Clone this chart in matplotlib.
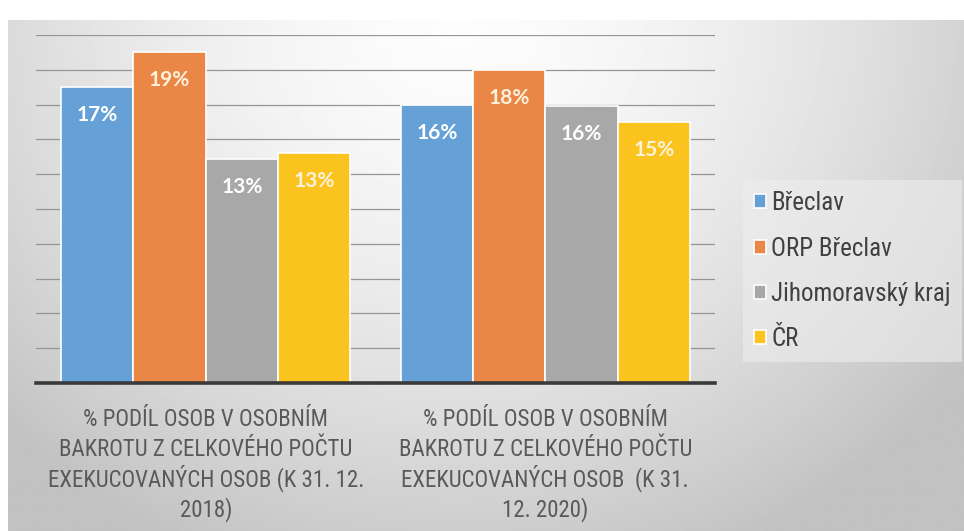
import numpy as np
import matplotlib.pyplot as plt
from matplotlib import font_manager

categories = ['% PODÍL OSOB V OSOBNÍM\nBAKROTU Z CELKOVÉHO POČTU\nEXEKUCOVANÝCH OSOB (K 31. 12.\n2018)',
              '% PODÍL OSOB V OSOBNÍM\nBAKROTU Z CELKOVÉHO POČTU\nEXEKUCOVANÝCH OSOB  (K 31.\n12. 2020)']
series = ['Břeclav', 'ORP Břeclav', 'Jihomoravský kraj', 'ČR']
breclav = [0.17, 0.16]
orp_breclav = [0.19, 0.18]
jmk = [0.129, 0.159]
cr = [0.132, 0.15]
labels = [['17%', '16%'], ['19%', '18%'], ['13%', '16%'], ['13%', '15%']]

colors = ['#65a0d7', '#ea8746', '#a8a8a8', '#fbc31e']
label_colors = ['#ffffff', '#fdf1dc', '#ffffff', '#fdf1dc']

# pick a narrow font if there is one, the original text is Calibri-ish
names = {f.name for f in font_manager.fontManager.ttflist}
font = 'Roboto'
for cand in ['Roboto Condensed', 'Liberation Sans Narrow', 'Open Sans Condensed']:
    if cand in names:
        font = cand
        break
plt.rcParams['font.family'] = [font, 'DejaVu Sans']

fig = plt.figure(figsize=(9.64, 5.31), dpi=100)
fig.patch.set_facecolor('white')

# gradient background of the chart area
bg = fig.add_axes([8 / 964, 0, 1 - 8 / 964, 511 / 531])
bg.set_axis_off()
yy, xx = np.mgrid[0:1:300j, 0:1:500j]
r = np.sqrt(((xx - 0.47) / 0.75) ** 2 + ((yy - 0.0) / 1.3) ** 2)
shade = np.clip(0.99 - 0.28 * r ** 1.6, 0.76, 1.0)
bg.imshow(shade, cmap='gray', vmin=0, vmax=1, aspect='auto',
          extent=[0, 1, 1, 0], interpolation='bilinear')

ax = fig.add_axes([36 / 964, 148 / 531, 679 / 964, 348 / 531])
ax.set_facecolor('none')

x = np.arange(len(categories))
width = 0.213
data = [breclav, orp_breclav, jmk, cr]
for i, vals in enumerate(data):
    pos = x + (i - 1.5) * width
    bars = ax.bar(pos, vals, width, color=colors[i], edgecolor='white',
                  linewidth=1.2, label=series[i], zorder=3)
    for b, txt in zip(bars, labels[i]):
        ax.annotate(txt, (b.get_x() + b.get_width() / 2, b.get_height()),
                    xytext=(0, -28), textcoords='offset pixels',
                    ha='center', va='center', color=label_colors[i],
                    fontsize=15, fontweight='bold', family=['Lato', 'DejaVu Sans'], zorder=4)

ax.set_xlim(-0.5, 1.5)
ax.set_ylim(0, 0.2)
ax.set_yticks(np.arange(0.02, 0.21, 0.02))
ax.yaxis.grid(True, color='#959595', linewidth=0.9, zorder=0)
ax.tick_params(axis='y', left=False, labelleft=False)
ax.tick_params(axis='x', bottom=False, labelbottom=False)
ax.set_xticks(x)

# category labels, one line at a time so the spacing stays even
for xi, cat in zip(x, categories):
    for k, line in enumerate(cat.split('\n')):
        ax.annotate(line, (xi, 0), xycoords=('data', 'axes fraction'),
                    xytext=(0, -43 - 30 * k), textcoords='offset pixels',
                    ha='center', va='baseline', fontsize=16.5, color='#595959',
                    annotation_clip=False)

for s in ['top', 'right', 'left']:
    ax.spines[s].set_visible(False)
ax.spines['bottom'].set_color('#3a3a3a')
ax.spines['bottom'].set_linewidth(2.6)
ax.spines['bottom'].set_zorder(5)

leg = fig.legend(loc='upper left', bbox_to_anchor=(743 / 964, 1 - 180 / 531),
                 frameon=True, fontsize=18, labelcolor='#404040',
                 handlelength=0.48, handleheight=0.48, handletextpad=0.2,
                 labelspacing=0.85, borderpad=0.45, borderaxespad=0, fancybox=False)
leg.get_frame().set_facecolor('#eeeeee')
leg.get_frame().set_alpha(0.6)
leg.get_frame().set_linewidth(0)

fig.savefig('out.png', dpi=100)
